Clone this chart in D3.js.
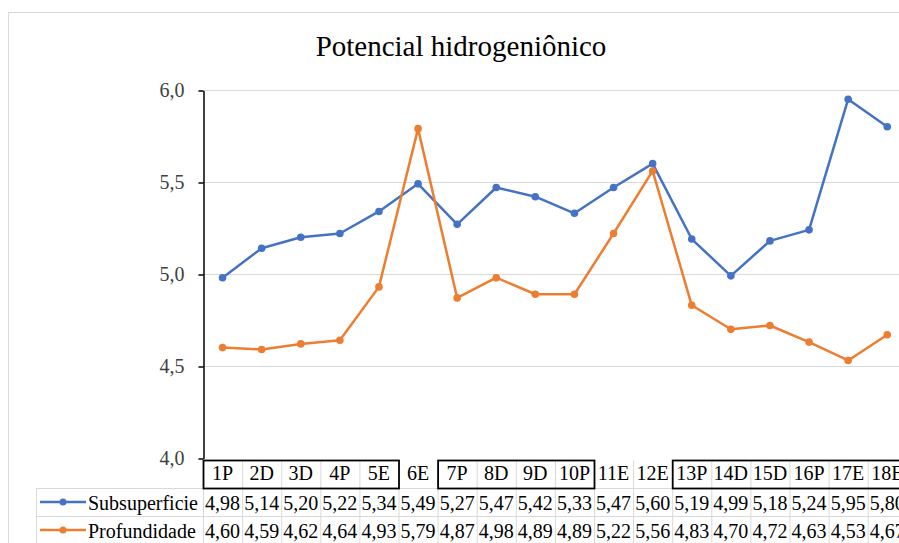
<!DOCTYPE html>
<html>
<head>
<meta charset="utf-8">
<script src="https://cdn.jsdelivr.net/npm/d3@7"></script>
<style>
  body { margin: 0; background: #fff; }
  svg text { font-family: "Liberation Serif", "DejaVu Serif", "Times New Roman", serif; }
</style>
</head>
<body>
<svg width="899" height="543"></svg>
<script>
const categories = ["1P", "2D", "3D", "4P", "5E", "6E", "7P", "8D", "9D", "10P", "11E", "12E", "13P", "14D", "15D", "16P", "17E", "18E"];
const subsuperficie = [4.98, 5.14, 5.20, 5.22, 5.34, 5.49, 5.27, 5.47, 5.42, 5.33, 5.47, 5.60, 5.19, 4.99, 5.18, 5.24, 5.95, 5.80];
const profundidade = [4.60, 4.59, 4.62, 4.64, 4.93, 5.79, 4.87, 4.98, 4.89, 4.89, 5.22, 5.56, 4.83, 4.70, 4.72, 4.63, 4.53, 4.67];
const yTicks = [4.0, 4.5, 5.0, 5.5, 6.0];
const groups = [["1P", "5E"], ["7P", "10P"], ["13P", "18E"]];

const series = [
  { name: "Subsuperficie", values: subsuperficie, color: "#4472C4" },
  { name: "Profundidade", values: profundidade, color: "#ED7D31" }
];

const serif = "'Liberation Serif', 'DejaVu Serif', serif";

const svg = d3.select("svg"),
  W = 899,
  plotLeft = 203,
  band = 39.1,
  plotTop = 90,
  plotBottom = 458,
  rowH = 28;

const comma = d3.formatLocale({ decimal: ",", thousands: ".", grouping: [3], currency: ["", ""] });
const f1 = comma.format(".1f"), f2 = comma.format(".2f");

const x = d3.scaleBand().domain(categories).range([plotLeft, plotLeft + band * categories.length]);
const y = d3.scaleLinear().domain([4, 6]).range([plotBottom, plotTop]);

// chart frame
svg.append("path")
  .attr("d", `M8.5,${W} V12.5 H${W}`)
  .attr("fill", "none").attr("stroke", "#d9d9d9");

svg.append("text")
  .attr("x", 461).attr("y", 56)
  .attr("text-anchor", "middle")
  .attr("font-family", serif)
  .style("font-size", "29px").attr("fill", "#000")
  .text("Potencial hidrogeniônico");

// gridlines
svg.append("g").selectAll("line")
  .data(yTicks.slice(1))
  .join("line")
  .attr("x1", plotLeft).attr("x2", W)
  .attr("y1", (d) => y(d) + 0.5).attr("y2", (d) => y(d) + 0.5)
  .attr("stroke", "#d9d9d9");

// y axis
const ax = svg.append("g")
  .attr("transform", `translate(${plotLeft + 0.5},0.5)`)
  .call(d3.axisLeft(y).tickValues(yTicks).tickSize(5).tickSizeOuter(0).tickPadding(14).tickFormat(f1));
ax.attr("font-family", serif).attr("font-size", 20);
ax.select(".domain").attr("stroke", "#000").attr("stroke-width", 1.5);
ax.selectAll(".tick line").attr("stroke", "#000").attr("stroke-width", 1.5);
ax.selectAll(".tick text").attr("fill", "#404040");

// lines and markers
series.forEach((s) => {
  const pts = categories.map((c, i) => [x(c) + x.bandwidth() / 2, y(s.values[i])]);
  svg.append("path")
    .attr("d", d3.line()(pts))
    .attr("fill", "none")
    .attr("stroke", s.color)
    .attr("stroke-width", 2.5)
    .attr("stroke-linejoin", "round");
  svg.append("g").selectAll("circle")
    .data(pts)
    .join("circle")
    .attr("cx", (d) => d[0]).attr("cy", (d) => d[1])
    .attr("r", 3.8)
    .attr("fill", s.color);
});

// data table
const table = svg.append("g").attr("font-family", serif).attr("font-size", 20);
const rowTop = plotBottom + 2 + rowH; // 488

table.selectAll("line.v")
  .data(d3.range(categories.length + 1))
  .join("line")
  .attr("x1", (i) => plotLeft + i * band + 0.5).attr("x2", (i) => plotLeft + i * band + 0.5)
  .attr("y1", plotBottom + 2).attr("y2", 543)
  .attr("stroke", "#d9d9d9");

[rowTop, rowTop + rowH].forEach((yy) => {
  table.append("line")
    .attr("x1", 36).attr("x2", W)
    .attr("y1", yy + 0.5).attr("y2", yy + 0.5)
    .attr("stroke", "#d9d9d9");
});
table.append("line")
  .attr("x1", 36.5).attr("x2", 36.5)
  .attr("y1", rowTop).attr("y2", 543)
  .attr("stroke", "#d9d9d9");

table.selectAll("text.cat")
  .data(categories)
  .join("text")
  .attr("x", (d) => x(d) + x.bandwidth() / 2)
  .attr("y", rowTop - 8)
  .attr("text-anchor", "middle")
  .text((d) => d);

series.forEach((s, r) => {
  const yy = rowTop + r * rowH;
  table.selectAll(null)
    .data(s.values)
    .join("text")
    .attr("x", (d, i) => x(categories[i]) + x.bandwidth() / 2)
    .attr("y", yy + 22)
    .attr("text-anchor", "middle")
    .text((d) => f2(d));
  const cy = yy + rowH / 2;
  table.append("line")
    .attr("x1", 40).attr("x2", 86)
    .attr("y1", cy).attr("y2", cy)
    .attr("stroke", s.color).attr("stroke-width", 2.5);
  table.append("circle")
    .attr("cx", 63).attr("cy", cy).attr("r", 3.5)
    .attr("fill", s.color);
  table.append("text")
    .attr("x", 88).attr("y", yy + 22)
    .text(s.name);
});

// black boxes around sample groups
table.selectAll("rect.grp")
  .data(groups)
  .join("rect")
  .attr("x", (g) => x(g[0]) + 0.5)
  .attr("y", plotBottom + 2.5)
  .attr("width", (g) => x(g[1]) + band - x(g[0]))
  .attr("height", rowH)
  .attr("fill", "none")
  .attr("stroke", "#000")
  .attr("stroke-width", 1.8);
</script>
</body>
</html>
